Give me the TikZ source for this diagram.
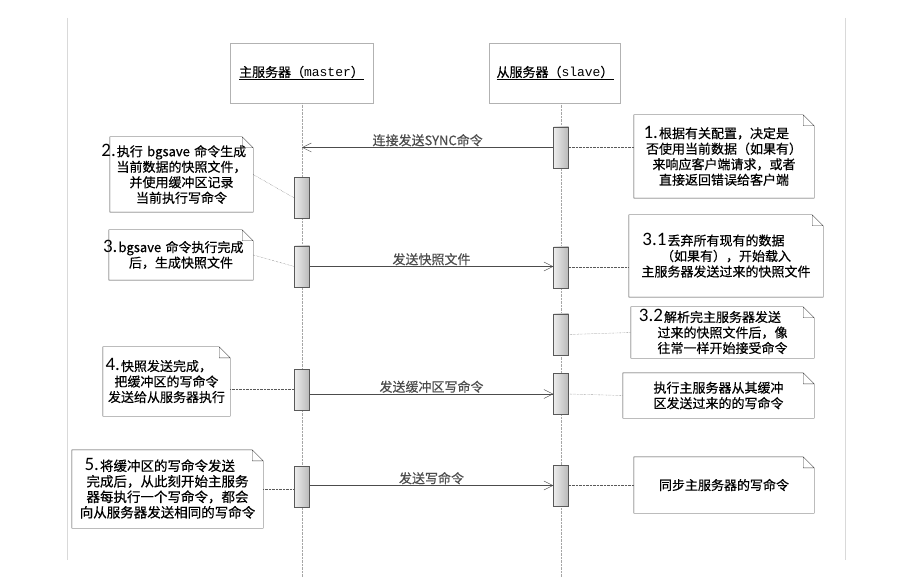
\documentclass[tikz,border=0pt]{standalone}
\usepackage{fontspec}
\setmainfont[FakeBold=0.4]{Noto Sans CJK SC}
\setmonofont{Liberation Mono}
\newfontfamily\numfont{Carlito}
\usetikzlibrary{arrows.meta, positioning}

% step numbers hang left of the first line
\newcommand{\stepno}[1]{\llap{\smash{\numfont\fontsize{19}{15}\selectfont #1}\kern1pt}}

\begin{document}
\begin{tikzpicture}[
    x=1pt, y=-1pt,
    head/.style={rectangle, draw=gray!60, minimum height=60pt, font=\fontsize{13}{15}\selectfont},
    bar/.style={rectangle, draw=gray!70!black, left color=gray!15, right color=gray!55, minimum width=15pt, minimum height=41pt, inner sep=0pt},
    note/.style={rectangle, inner sep=2pt, align=center, font=\fontsize{13}{15.5}\selectfont},
    life/.style={densely dotted, gray!70},
    msg/.style={-{Straight Barb[length=9pt,width=9pt]}, gray!60!black},
    link/.style={densely dotted, gray!70!black},
    lbl/.style={font=\fontsize{13}{15}\selectfont, inner sep=1pt},
    fold/.style={draw=gray!50!black}
]
\useasboundingbox (0,0) rectangle (897,577);

% frame
\draw[gray!30] (67,18) -- (67,560) (845,18) -- (845,560);

% Servers
\node[head, minimum width=143pt] (master) at (301.5,73) {\underline{主服务器（\texttt{master}）}};
\node[head, minimum width=131pt] (slave) at (555,73) {\underline{从服务器（\texttt{slave}）}};

% Lifelines
\coordinate (mbot) at (302,577);
\coordinate (sbot) at (561,577);
\draw[life] (mbot |- master.south) -- (mbot);
\draw[life] (sbot |- slave.south) -- (sbot);

% Activations
\node[bar] (s1) at (561,147.5) {};
\node[bar] (m1) at (302,198) {};
\node[bar] (m2) at (302,266.5) {};
\node[bar] (s2) at (561,267.5) {};
\node[bar] (s3) at (561,334.5) {};
\node[bar] (m3) at (302,389.5) {};
\node[bar] (s4) at (561,394) {};
\node[bar] (m4) at (302,486.5) {};
\node[bar] (s5) at (561,485.5) {};

% Notes
\node[note, minimum width=180pt, text width=176pt, minimum height=83pt] (note1) at (724,156.5)
    {\stepno{1.}根据有关配置，决定是\\否使用当前数据（如果有）\\来响应客户端请求，或者\\直接返回错误给客户端};
\node[note, minimum width=143pt, text width=139pt, minimum height=75pt] (note2) at (181.5,174.5)
    {\stepno{2.}执行 bgsave 命令生成\\当前数据的快照文件，\\并使用缓冲区记录\\当前执行写命令};
\node[note, minimum width=144pt, text width=140pt, minimum height=50pt] (note3) at (181,255)
    {\stepno{3.}bgsave 命令执行完成\\后，生成快照文件};
\node[note, minimum width=194pt, text width=190pt, minimum height=82pt] (note31) at (726,256)
    {\stepno{3.1}丢弃所有现有的数据\\（如果有），开始载入\\主服务器发送过来的快照文件};
\node[note, minimum width=183pt, text width=179pt, minimum height=51pt] (note32) at (722.5,332.5)
    {\stepno{3.2}解析完主服务器发送\\过来的快照文件后，像\\往常一样开始接受命令};
\node[note, minimum width=127pt, text width=123pt, minimum height=69pt] (note4) at (166.5,381.5)
    {\stepno{4.}快照发送完成，\\把缓冲区的写命令\\发送给从服务器执行};
\node[note, minimum width=191pt, text width=187pt, minimum height=45pt] (note41) at (718.5,395.5)
    {执行主服务器从其缓冲\\区发送过来的的写命令};
\node[note, minimum width=191pt, text width=187pt, minimum height=78pt, font=\fontsize{13.5}{15.5}\selectfont] (note5) at (167.5,489)
    {\stepno{5.}将缓冲区的写命令发送\\完成后，从此刻开始主服务\\器每执行一个写命令，都会\\向从服务器发送相同的写命令};
\node[note, minimum width=180pt, text width=176pt, minimum height=56pt] (note6) at (724,485)
    {同步主服务器的写命令};

% note outlines with folded corner
\foreach \n in {note1,note2,note3,note31,note32,note4,note41,note5,note6}
  \draw[fold] (\n.north west) -- ([xshift=-11pt]\n.north east) -- ([yshift=-11pt]\n.north east)
      -- (\n.south east) -- (\n.south west) -- cycle
      ([xshift=-11pt]\n.north east) |- ([yshift=-11pt]\n.north east);

% Messages
\coordinate (msync) at (m1 |- s1);
\draw[msg] (s1.west) -- node[lbl, above] (lsync) {连接发送SYNC命令} (msync);
\draw[msg] (m2.east) -- node[lbl, above] (lsnap) {发送快照文件} (m2.east -| s2.west);
\draw[msg] (m3.east |- s4) -- node[lbl, above] (lbuf) {发送缓冲区写命令} (s4.west);
\draw[msg] (m4.east |- s5) -- node[lbl, above] (lwrite) {发送写命令} (s5.west);

% Note links
\draw[link] (s1.east) -- (s1.east -| note1.west);
\draw[link] (note2.east) -- (m1.west);
\draw[link] (note3.east) -- (m2.west);
\draw[link] (s2.east) -- (s2.east -| note31.west);
\draw[link] (s3.east) -- (note32.west);
\draw[link] (note4.east |- m3) -- (m3.west);
\draw[link] (s4.east) -- (note41.west);
\draw[link] (note5.east) -- (note5.east -| m4.west);
\draw[link] (s5.east) -- (s5.east -| note6.west);

\end{tikzpicture}
\end{document}
